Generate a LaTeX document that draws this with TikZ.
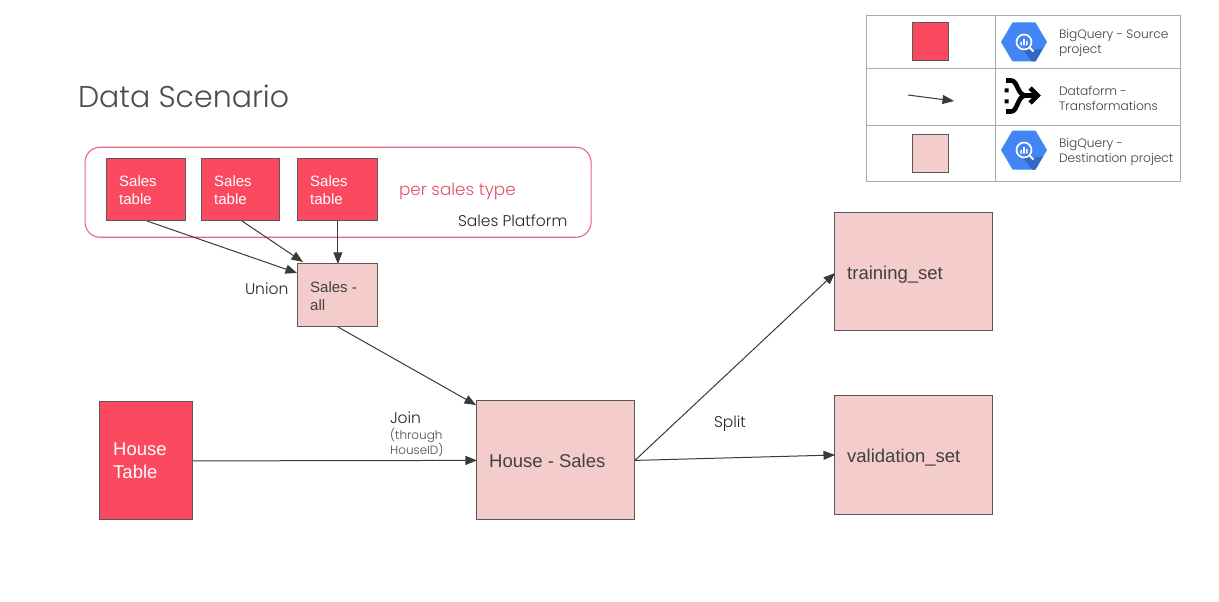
\documentclass[tikz,border=0pt]{standalone}
\usepackage{fontspec}
\setmainfont{Liberation Sans}
\newfontfamily\mont{Poppins Light}
\usetikzlibrary{arrows.meta,calc}
\definecolor{srcred}{HTML}{FB4A60}
\definecolor{dstpink}{HTML}{F4CCCC}
\definecolor{edgegray}{HTML}{595959}
\definecolor{linegray}{HTML}{3A3A3A}
\definecolor{platform}{HTML}{E8697F}
\definecolor{pertypecol}{HTML}{E4506A}
\definecolor{bqblue}{HTML}{4285F4}
\definecolor{bqdark}{HTML}{3367C8}
\definecolor{tablegray}{HTML}{ABABAB}
\tikzset{
 x=1pt,y=-1pt,
 srcbox/.style={draw=edgegray,line width=1.1pt,fill=srcred,inner sep=0pt,outer sep=0pt,text=white},
 dstbox/.style={draw=edgegray,line width=1.1pt,fill=dstpink,inner sep=0pt,outer sep=0pt,text=black!75},
 conn/.style={draw=linegray,line width=1pt,-{Triangle[length=11.5pt,width=9pt]}},
 lbl/.style={inner sep=0pt,outer sep=0pt,anchor=west,align=left,font=\mont},
 legendline/.style={draw=tablegray,line width=1pt},
}
\newcommand{\boxat}[6]{% style,name,x1,y1,x2,y2
 \node[#1,minimum width=#5pt-#3pt,minimum height=#6pt-#4pt,anchor=north west] (#2) at ({#3-.1},{#4-.1}) {};}
\newcommand{\bqhex}[2]{% name, center
 \begin{scope}[shift={(#2)}]
  \fill[bqblue] (-23,0) -- (-11.5,-19.5) -- (11.5,-19.5) -- (23,0) -- (11.5,19.5) -- (-11.5,19.5) -- cycle;
  \fill[bqdark] (4,3) -- (9,8) -- (19,6.5) -- (11.5,19.5) -- (8,19.5) -- (-1,8) -- cycle;
  \draw[white,line width=1.7pt] (0,0) circle (7.5);
  \draw[white,line width=2pt] (5.2,5.2) -- (9.5,9.5);
  \fill[white] (-3.7,0) rectangle (-2.2,3.5) (-0.8,-3) rectangle (0.8,3.5) (2.2,-1) rectangle (3.7,3.5);
 \end{scope}}
\begin{document}
\begin{tikzpicture}
\useasboundingbox (0,0) rectangle (1219,602);
\fill[white] (0,0) rectangle (1219,602);
% title
\node[lbl,text=black!70,font=\mont\fontsize{30}{36}\selectfont] (title) at (78,96) {Data Scenario};
% platform
\node[draw=platform,line width=1.1pt,rounded corners=15pt,minimum width=506pt,minimum height=90pt,anchor=north west,inner sep=0pt] (platformbox) at (84.5,146.7) {};
\node[lbl,text=pertypecol,font=\mont\fontsize{16.8}{20}\selectfont] (pertype) at (399,191.5) {per sales type};
\node[lbl,text=black!85,font=\mont\fontsize{15.5}{18}\selectfont] (platlabel) at (458,221) {Sales Platform};
% source boxes
\boxat{srcbox}{s1}{107}{159}{186}{221}
\boxat{srcbox}{s2}{202}{159}{280}{221}
\boxat{srcbox}{s3}{298}{159}{378}{221}
\foreach \n/\xx in {s1/119,s2/214,s3/310}
 \node[inner sep=0pt,anchor=north west,align=left,text=white,font=\fontsize{15}{18}\selectfont] (\n t) at (\xx,175) {Sales\\table};
\boxat{dstbox}{sall}{298}{264}{378}{327}
\node[inner sep=0pt,anchor=north west,align=left,text=black!75,font=\fontsize{15}{18}\selectfont] (sallt) at (310,281) {Sales -\\all};
\node[lbl,text=black!85,font=\mont\fontsize{15.5}{18}\selectfont] (union) at (245,289) {Union};
% lower
\boxat{srcbox}{house}{100}{402}{193}{520}
\node[inner sep=0pt,anchor=north west,align=left,text=white,font=\fontsize{18.5}{22.5}\selectfont] (houset) at (113,443) {House\\Table};
\boxat{dstbox}{hs}{477}{401}{635}{520}
\node[inner sep=0pt,anchor=west,text=black!75,font=\fontsize{18.5}{22}\selectfont] (hst) at (489,461) {House - Sales};
\boxat{dstbox}{train}{835}{213}{993}{331}
\node[inner sep=0pt,anchor=west,text=black!75,font=\fontsize{18.5}{22}\selectfont] (traint) at (847,275) {training\_set};
\boxat{dstbox}{valid}{835}{396}{993}{515}
\node[inner sep=0pt,anchor=west,text=black!75,font=\fontsize{18.5}{22}\selectfont] (validt) at (847,457.5) {validation\_set};
\node[lbl,text=black!85,font=\mont\fontsize{15.5}{18}\selectfont] (join) at (390,418) {Join};
\node[inner sep=0pt,anchor=north west,align=left,text=black!70,font=\mont\fontsize{12}{15}\selectfont] (through) at (390,428) {(through\\HouseID)};
\node[lbl,text=black!85,font=\mont\fontsize{15.5}{18}\selectfont] (split) at (714,424) {Split};
% connectors
\coordinate (s1out) at (147,221);
\coordinate (s2out) at (242,221);
\coordinate (allin1) at (297,273);
\coordinate (allin2) at (303,262);
\coordinate (allout) at (338,327);
\coordinate (hsin) at (476,405);
\coordinate (trainin) at (835,273);
\coordinate (validin) at (835,455);
\draw[conn] (s1out) -- (allin1);
\draw[conn] (s2out) -- (allin2);
\draw[conn] (s3.south) -- (sall.north);
\draw[conn] (allout) -- (hsin);
\draw[conn] (house.east) -- (hs.west);
\draw[conn] (hs.east) -- (trainin);
\draw[conn] (hs.east) -- (validin);
% legend
\node[legendline,minimum width=314pt,minimum height=166pt,anchor=north west,inner sep=0pt] (legend) at (865.5,15) {};
\coordinate (vt) at (995,15); \coordinate (vb) at (995,181);
\coordinate (h1l) at (865.5,69); \coordinate (h1r) at (1179.5,69);
\coordinate (h2l) at (865.5,125); \coordinate (h2r) at (1179.5,125);
\draw[legendline] (vt) -- (vb);
\draw[legendline] (h1l) -- (h1r);
\draw[legendline] (h2l) -- (h2r);
\boxat{srcbox}{lsrc}{913}{23}{949}{61}
\boxat{dstbox}{ldst}{913}{135}{949}{173}
\coordinate (la) at (908,95); \coordinate (lb) at (954,101);
\draw[conn] (la) -- (lb);
\bqhex{hex1}{1024,42}
\bqhex{hex2}{1024,150}
% dataform icon
\begin{scope}[shift={(1024,96)}]
 \draw[black,line width=4.6pt] (-18,-15.5) -- (-13,-15.5) .. controls (-6,-15.5) and (-7,-0.5) .. (2,-0.5) -- (12,-0.5);
 \draw[black,line width=4.6pt] (-18,15.5) -- (-13,15.5) .. controls (-6,15.5) and (-7,-0.5) .. (2,-0.5);
 \draw[black,line width=4.6pt] (6,-8) -- (13.5,-0.5) -- (6,7);
 \fill[black] (-19.5,-7.5) rectangle (-15.5,-3.5) (-19.5,3.5) rectangle (-15.5,7.5);
\end{scope}
\node[lbl,text=black!75,font=\mont\fontsize{12.2}{15}\selectfont] (l1) at (1059,43) {BigQuery - Source\\project};
\node[lbl,text=black!75,font=\mont\fontsize{12.2}{15}\selectfont] (l2) at (1059,98.5) {Dataform -\\Transformations};
\node[lbl,text=black!75,font=\mont\fontsize{12.2}{15}\selectfont] (l3) at (1059,152) {BigQuery -\\Destination project};
\end{tikzpicture}
\end{document}
